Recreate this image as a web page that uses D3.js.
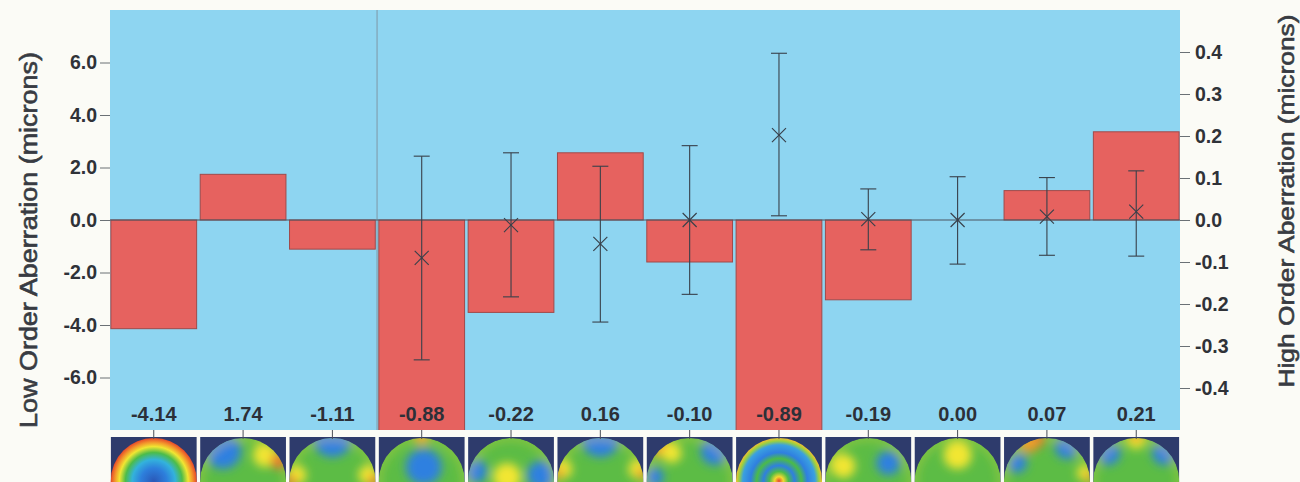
<!DOCTYPE html>
<html>
<head>
<meta charset="utf-8">
<script src="https://cdn.jsdelivr.net/npm/d3@7"></script>
<style>
  body { margin: 0; background: #fbfbf6; }
  text { font-family: "Liberation Sans", Arial, sans-serif; }
</style>
</head>
<body>
<svg id="chart" width="1300" height="482"></svg>
<script>
// exams, first three are low order (left axis), rest high order (right axis)
const categories = ["LO1", "LO2", "LO3", "HO1", "HO2", "HO3", "HO4", "HO5", "HO6", "HO7", "HO8", "HO9"];
const lowOrder = [-4.14, 1.74, -1.11];
const highOrder = [-0.88, -0.22, 0.16, -0.10, -0.89, -0.19, 0.00, 0.07, 0.21];

// error bars (high order, microns)
const hoMean = [-0.090, -0.012, -0.057, 0.000, 0.202, 0.002, 0.000, 0.008, 0.020];
const hoUpper = [0.152, 0.160, 0.128, 0.177, 0.397, 0.074, 0.103, 0.101, 0.117];
const hoLower = [-0.333, -0.183, -0.243, -0.177, 0.010, -0.071, -0.105, -0.084, -0.086];

const lowTicks = [-6, -4, -2, 0, 2, 4, 6];
const highTicks = [-0.4, -0.3, -0.2, -0.1, 0, 0.1, 0.2, 0.3, 0.4];

// topography thumbnails: ring gradients or blobs on green
const mapRings = {
  0: [[0, "#2a58b8"], [0.3, "#2d7fdc"], [0.5, "#33b2dc"], [0.66, "#4cbc4a"], [0.8, "#f0e632"], [0.9, "#f3982c"], [1, "#e6482a"]],
  7: [[0, "#e6482a"], [0.1, "#f4d830"], [0.22, "#4bbb48"], [0.36, "#2f7fe0"], [0.52, "#4bbb48"], [0.66, "#2f7fe0"], [0.84, "#3aa0e0"], [0.93, "#9ad040"], [1, "#f2c030"]]
};
const mapBlobs = [
  [],
  [[-20, -30, 18, "#2f80e0"], [22, -26, 12, "#f2e632"], [36, -20, 8, "#ec5a2a"]],
  [[0, -44, 20, "#2f80e0"], [-36, -6, 10, "#f2e632"], [-42, 0, 6, "#ec5a2a"], [36, -6, 10, "#f2e632"], [42, 0, 6, "#ec5a2a"]],
  [[2, -14, 18, "#2f80e0"], [0, -44, 8, "#f3a030"]],
  [[-36, -10, 12, "#2f80e0"], [-4, -4, 14, "#f2e632"], [30, -6, 14, "#2f80e0"]],
  [[0, -44, 20, "#2f80e0"], [-38, -12, 10, "#f2e632"], [-42, -8, 6, "#f0902a"], [38, -12, 10, "#f2e632"], [42, -8, 6, "#f0902a"]],
  [[-28, -33, 10, "#f0902a"], [-18, -28, 10, "#f2e632"], [25, -30, 14, "#2f80e0"], [-36, -4, 10, "#2f80e0"]],
  [],
  [[-25, -15, 12, "#f2e632"], [20, -18, 12, "#2f80e0"]],
  [[0, -26, 14, "#f2e632"]],
  [[-10, -42, 8, "#ec4a2a"], [-18, -38, 10, "#f0902a"], [-30, -18, 10, "#2f80e0"], [20, -34, 12, "#2f80e0"], [38, -8, 8, "#f2e632"], [42, -4, 5, "#f0902a"]],
  [[0, -42, 10, "#f2e632"], [0, -45, 6, "#f0902a"], [-28, -28, 12, "#2f80e0"], [28, -28, 12, "#2f80e0"]]
];

const W = 1300, H = 482;
const x0 = 110, x1 = 1180, y0 = 10, y1 = 430;
const fmt = d3.formatLocale({decimal: ".", thousands: ",", grouping: [3], currency: ["", ""], minus: "-"}).format;

const svg = d3.select("#chart");
const defs = svg.append("defs");

const x = d3.scaleBand().domain(categories).range([x0, x1]).paddingInner(0.04).paddingOuter(0.01);
const yLow = d3.scaleLinear().domain([-8, 8]).range([y1, y0]);
const yHigh = d3.scaleLinear().domain([-0.5, 0.5]).range([y1, y0]);

const bars = categories.map((c, i) => i < 3
  ? {cat: c, value: lowOrder[i], y: yLow}
  : {cat: c, value: highOrder[i - 3], y: yHigh});

defs.append("clipPath").attr("id", "plotClip")
  .append("rect").attr("x", x0).attr("y", y0).attr("width", x1 - x0).attr("height", y1 - y0);

// background
svg.append("rect")
  .attr("x", x0).attr("y", y0)
  .attr("width", x1 - x0).attr("height", y1 - y0)
  .attr("fill", "#8ed5f1");

// separator between low and high order
const sepX = x(categories[3]) - x.step() * x.paddingInner() / 2;
svg.append("line")
  .attr("x1", sepX).attr("x2", sepX)
  .attr("y1", y0).attr("y2", y1)
  .attr("stroke", "#7f98a6").attr("stroke-width", 1);

svg.append("g")
  .attr("clip-path", "url(#plotClip)")
  .selectAll("rect")
  .data(bars)
  .join("rect")
  .attr("x", (d) => x(d.cat))
  .attr("width", x.bandwidth())
  .attr("y", (d) => Math.min(d.y(d.value), d.y(0)))
  .attr("height", (d) => Math.abs(d.y(d.value) - d.y(0)))
  .attr("fill", "#e6625f")
  .attr("stroke", "#a04a4a")
  .attr("stroke-width", 1);

// zero line
svg.append("line")
  .attr("x1", x0).attr("x2", x1)
  .attr("y1", yLow(0)).attr("y2", yLow(0))
  .attr("stroke", "#4a5560").attr("stroke-width", 1.2);

// error bars
const errs = hoMean.map((m, i) => ({cat: categories[i + 3], mean: m, hi: hoUpper[i], lo: hoLower[i]}));
const eg = svg.append("g").attr("stroke", "#38404a").attr("stroke-width", 1.1).attr("fill", "none");
const cx = (d) => x(d.cat) + x.bandwidth() / 2;
eg.selectAll(".stem").data(errs).join("line")
  .attr("x1", cx).attr("x2", cx)
  .attr("y1", (d) => yHigh(d.hi)).attr("y2", (d) => yHigh(d.lo));
eg.selectAll(".capT").data(errs).join("line")
  .attr("x1", (d) => cx(d) - 8).attr("x2", (d) => cx(d) + 8)
  .attr("y1", (d) => yHigh(d.hi)).attr("y2", (d) => yHigh(d.hi));
eg.selectAll(".capB").data(errs).join("line")
  .attr("x1", (d) => cx(d) - 8).attr("x2", (d) => cx(d) + 8)
  .attr("y1", (d) => yHigh(d.lo)).attr("y2", (d) => yHigh(d.lo));
eg.selectAll(".xa").data(errs).join("line")
  .attr("x1", (d) => cx(d) - 7).attr("x2", (d) => cx(d) + 7)
  .attr("y1", (d) => yHigh(d.mean) - 7).attr("y2", (d) => yHigh(d.mean) + 7);
eg.selectAll(".xb").data(errs).join("line")
  .attr("x1", (d) => cx(d) - 7).attr("x2", (d) => cx(d) + 7)
  .attr("y1", (d) => yHigh(d.mean) + 7).attr("y2", (d) => yHigh(d.mean) - 7);

// value labels
svg.append("g").selectAll("text")
  .data(bars)
  .join("text")
  .attr("x", cx)
  .attr("y", 421)
  .attr("text-anchor", "middle")
  .attr("font-size", 20)
  .attr("font-weight", "bold")
  .attr("fill", "#2c3038")
  .text((d) => fmt(".2f")(d.value));

// axes
const styleAxis = (g) => {
  g.select(".domain").remove();
  g.attr("font-family", null).attr("font-size", null);
  g.selectAll("line").attr("stroke", "#6a7075");
  g.selectAll("text").attr("font-size", 19.5).attr("font-weight", "bold").attr("fill", "#2f3238");
};
svg.append("g")
  .attr("transform", `translate(${x0},0)`)
  .call(d3.axisLeft(yLow).tickValues(lowTicks).tickFormat(fmt(".1f")).tickSize(10).tickPadding(3))
  .call(styleAxis);
svg.append("g")
  .attr("transform", `translate(${x1},0)`)
  .call(d3.axisRight(yHigh).tickValues(highTicks).tickFormat(fmt(".1f")).tickSize(10).tickPadding(5))
  .call(styleAxis);

svg.append("text")
  .attr("transform", "translate(37,240) rotate(-90)")
  .attr("text-anchor", "middle")
  .attr("font-size", 23)
  .attr("fill", "#383b42")
  .attr("stroke", "#383b42").attr("stroke-width", 0.6)
  .attr("textLength", 376)
  .attr("lengthAdjust", "spacingAndGlyphs")
  .text("Low Order Aberration (microns)");
svg.append("text")
  .attr("transform", "translate(1294,201) rotate(-90)")
  .attr("text-anchor", "middle")
  .attr("font-size", 22)
  .attr("fill", "#383b42")
  .attr("stroke", "#383b42").attr("stroke-width", 0.6)
  .attr("textLength", 373)
  .attr("lengthAdjust", "spacingAndGlyphs")
  .text("High Order Aberration (microns)");

// thumbnails
const blur = defs.append("filter").attr("id", "soft").attr("x", "-50%").attr("y", "-50%").attr("width", "200%").attr("height", "200%");
blur.append("feGaussianBlur").attr("stdDeviation", 5);

const thumbTop = 437, R = 43;
categories.forEach((c, i) => {
  const bw = x.bandwidth();
  const g = svg.append("g").attr("transform", `translate(${x(c)},${thumbTop})`);
  g.append("rect").attr("width", bw).attr("height", H - thumbTop).attr("fill", "#2e3b6c");
  const ccx = bw / 2, ccy = R + 1;
  defs.append("clipPath").attr("id", "disc" + i)
    .append("circle").attr("cx", x(c) + ccx).attr("cy", thumbTop + ccy).attr("r", R);
  if (mapRings[i]) {
    const grad = defs.append("radialGradient").attr("id", "ring" + i);
    grad.selectAll("stop").data(mapRings[i]).join("stop")
      .attr("offset", (d) => d[0]).attr("stop-color", (d) => d[1]);
    g.append("circle").attr("cx", ccx).attr("cy", ccy).attr("r", R).attr("fill", `url(#ring${i})`);
  } else {
    const inner = svg.append("g").attr("clip-path", `url(#disc${i})`)
      .append("g").attr("transform", `translate(${x(c)},${thumbTop})`);
    inner.append("circle").attr("cx", ccx).attr("cy", ccy).attr("r", R).attr("fill", "#5cbc45");
    const soft = inner.append("g").attr("filter", "url(#soft)");
    soft.selectAll("circle").data(mapBlobs[i]).join("circle")
      .attr("cx", (d) => ccx + d[0]).attr("cy", (d) => ccy + d[1]).attr("r", (d) => d[2])
      .attr("fill", (d) => d[3]);
    soft.append("circle").attr("cx", ccx).attr("cy", ccy).attr("r", R)
      .attr("fill", "none").attr("stroke", "#e8d838").attr("stroke-width", 3).attr("opacity", 0.7);
  }
  svg.append("line")
    .attr("x1", x(c) + ccx).attr("x2", x(c) + ccx)
    .attr("y1", y1).attr("y2", y1 + 9)
    .attr("stroke", "#4a4f58").attr("stroke-width", 1);
});
</script>
</body>
</html>
